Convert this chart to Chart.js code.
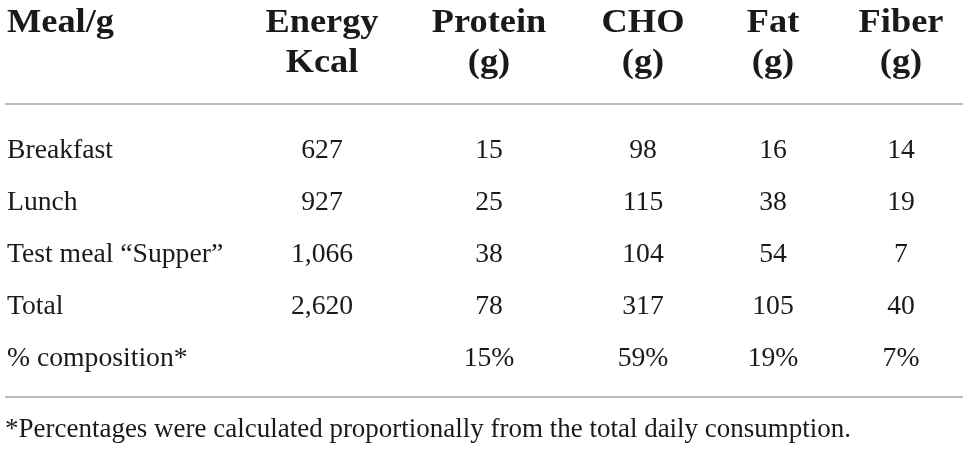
<!DOCTYPE html>
<html>
<head>
<meta charset="utf-8">
<script src="https://cdn.jsdelivr.net/npm/chart.js@4.4.0/dist/chart.umd.min.js"></script>
<style>
html,body{margin:0;padding:0;background:#fff;}
#wrap{width:968px;height:450px;}
</style>
</head>
<body>
<div id="wrap"><canvas id="c" width="968" height="450"></canvas></div>
<script>
// ---- data ----
const headerLine1 = ["Meal/g", "Energy", "Protein", "CHO", "Fat", "Fiber"];
const headerLine2 = ["", "Kcal", "(g)", "(g)", "(g)", "(g)"];
const rowLabels = ["Breakfast", "Lunch", "Test meal \u201cSupper\u201d", "Total", "% composition*"];
const energy = ["627", "927", "1,066", "2,620", ""];
const protein = ["15", "25", "38", "78", "15%"];
const cho = ["98", "115", "104", "317", "59%"];
const fat = ["16", "38", "54", "105", "19%"];
const fiber = ["14", "19", "7", "40", "7%"];
const footnote = "*Percentages were calculated proportionally from the total daily consumption.";

// ---- layout (positions in scale units) ----
const colCenters = [322, 489, 643, 773, 901];
const labelX = 7;
const headBase = [32, 72];
const rowBase = [158, 210, 262, 314, 366];
const rules = [104, 397];
const ruleX = [5, 963];
const footX = 5, footBase = 437;

const textColor = "#1a1a1a";
const serif = "'Liberation Serif', 'Times New Roman', serif";

function drawStretched(ctx, txt, x, y, align, sx) {
  const w = ctx.measureText(txt).width * sx;
  let left = x;
  if (align === "center") left = x - w / 2;
  else if (align === "right") left = x - w;
  ctx.save();
  ctx.translate(left, y);
  ctx.scale(sx, 1);
  ctx.textAlign = "left";
  ctx.fillText(txt, 0, 0);
  ctx.restore();
}

const tablePlugin = {
  id: "tablePlugin",
  afterDraw(chart) {
    const ctx = chart.ctx;
    const xs = chart.scales.x, ys = chart.scales.y;
    const X = v => xs.getPixelForValue(v);
    const Y = v => ys.getPixelForValue(v);
    ctx.save();
    ctx.fillStyle = textColor;
    ctx.textBaseline = "alphabetic";

    // header
    ctx.font = "bold 33px " + serif;
    const hs = 107 / ctx.measureText("Meal/g").width;
    drawStretched(ctx, headerLine1[0], X(labelX), Y(headBase[0]), "left", hs);
    for (let i = 1; i < headerLine1.length; i++) {
      drawStretched(ctx, headerLine1[i], X(colCenters[i - 1]), Y(headBase[0]), "center", hs);
      if (headerLine2[i]) drawStretched(ctx, headerLine2[i], X(colCenters[i - 1]), Y(headBase[1]), "center", hs);
    }

    // body
    ctx.font = "28px " + serif;
    const bs = 106 / ctx.measureText("Breakfast").width;
    const cols = [energy, protein, cho, fat, fiber];
    rowLabels.forEach((lab, r) => {
      drawStretched(ctx, lab, X(labelX), Y(rowBase[r]), "left", bs);
      cols.forEach((col, c) => {
        if (col[r]) drawStretched(ctx, col[r], X(colCenters[c]), Y(rowBase[r]), "center", bs);
      });
    });

    // footnote
    ctx.font = "28px " + serif;
    const fs = 846 / ctx.measureText(footnote).width;
    drawStretched(ctx, footnote, X(footX), Y(footBase), "left", fs);

    // rules
    ctx.strokeStyle = "#a8a8a8";
    ctx.lineWidth = 1.5;
    rules.forEach(ry => {
      ctx.beginPath();
      ctx.moveTo(X(ruleX[0]), Y(ry));
      ctx.lineTo(X(ruleX[1]), Y(ry));
      ctx.stroke();
    });
    ctx.restore();
  }
};

new Chart(document.getElementById("c"), {
  type: "scatter",
  data: { datasets: [{ data: [], pointRadius: 0 }] },
  options: {
    responsive: false,
    animation: false,
    layout: { padding: 0 },
    plugins: { legend: { display: false }, tooltip: { enabled: false } },
    scales: {
      x: { type: "linear", min: 0, max: 968, display: false },
      y: { type: "linear", min: 0, max: 450, reverse: true, display: false }
    }
  },
  plugins: [tablePlugin]
});
</script>
</body>
</html>
